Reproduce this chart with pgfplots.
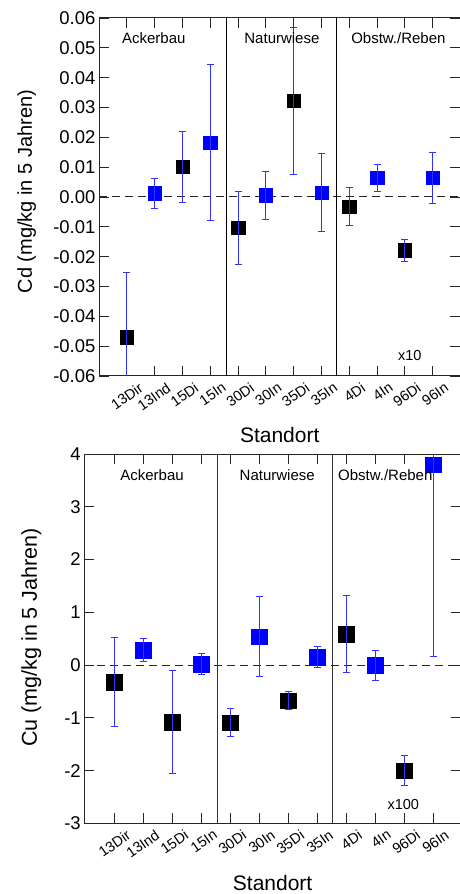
\documentclass[border=0pt]{standalone}
\usepackage{fontspec}
\setmainfont{Liberation Sans}
\usepackage{pgfplots}
\pgfplotsset{compat=1.18}

\definecolor{mkblue}{RGB}{0,0,255}
\definecolor{errblue}{RGB}{50,50,255}

\pgfplotsset{
  sitestyle/.style={
    scale only axis,
    anchor=south west,
    clip mode=individual,
    clip marker paths=true,
    unbounded coords=jump,
    scaled y ticks=false,
    xtick={0,...,11},
    xticklabels={13Dir,13Ind,15Di,15In,30Di,30In,35Di,35In,4Di,4In,96Di,96In},
    tick align=inside,
    major tick length=10pt,
    axis line style={black!85, line width=1pt},
    tick style={black!85, line width=0.8pt},
    xticklabel style={rotate=35, anchor=north east, inner sep=1pt,
      font=\fontsize{14.5}{16}\selectfont, xshift=7pt, yshift=-10pt},
    yticklabel style={font=\fontsize{18.5}{20}\selectfont},
    xlabel={Standort},
  },
  errbar/.style={
    forget plot, errblue, line width=0.9pt, mark=-, mark size=3.5pt,
    mark options={errblue, solid, line width=0.9pt},
  },
}

\begin{document}
\begin{tikzpicture}
\path[use as bounding box] (0,0) rectangle (460pt,894pt);

% ---------------- Cd ----------------
\begin{axis}[sitestyle,
  at={(99pt,518pt)}, width=361.4pt, height=358pt,
  xmin=-1, xmax=12, ymin=-0.06, ymax=0.06,
  ytick={-0.06,-0.05,...,0.061},
  yticklabels={-0.06,-0.05,-0.04,-0.03,-0.02,-0.01,0.00,0.01,0.02,0.03,0.04,0.05,0.06},
  ylabel={Cd (mg/kg in 5 Jahren)},
  ylabel style={at={(axis description cs:-0.2,0.515)}, anchor=center,
    font=\fontsize{20}{22}\selectfont},
  xlabel style={at={(axis description cs:0.5,-0.165)}, anchor=center,
    font=\fontsize{21}{23}\selectfont},
]
\addplot[black!85, dashed, dash pattern=on 8pt off 5pt, line width=1pt, forget plot]
  coordinates {(-1,0) (12,0)};
\draw[black, line width=0.8pt] (axis cs:3.6,-0.06) -- (axis cs:3.6,0.06);
\draw[black, line width=0.8pt] (axis cs:7.55,-0.06) -- (axis cs:7.55,0.06);
% means
\addplot[only marks, mark=square*, mark size=6.7pt, black, mark options={draw=none, fill=black}]
  coordinates {(0,-0.0470) (2,0.0101) (4,-0.0103) (6,0.0323) (8,-0.0033) (10,-0.0178)};
\addplot[only marks, mark=square*, mark size=6.7pt, mkblue, mark options={draw=none, fill=mkblue}]
  coordinates {(1,0.0013) (3,0.0183) (5,0.0006) (7,0.0015) (9,0.0065) (11,0.0064)};
% error bars (low, high)
\addplot[errbar] coordinates {
  (0,-0.0686) (0,-0.0254) (0,nan)
  (1,-0.0037) (1,0.0063) (1,nan)
  (2,-0.0017) (2,0.0219) (2,nan)
  (3,-0.0079) (3,0.0445) (3,nan)
  (4,-0.0225) (4,0.0019) (4,nan)
  (5,-0.0074) (5,0.0086) (5,nan)
  (6,0.0077) (6,0.0569) (6,nan)
  (7,-0.0115) (7,0.0145) (7,nan)
  (8,-0.0097) (8,0.0031) (8,nan)
  (9,0.0020) (9,0.0110) (9,nan)
  (10,-0.0215) (10,-0.0141) (10,nan)
  (11,-0.0021) (11,0.0149)};
\node[font=\fontsize{15}{17}\selectfont] at (axis cs:0.97,0.0533) {Ackerbau};
\node[font=\fontsize{15}{17}\selectfont] at (axis cs:5.58,0.0533) {Naturwiese};
\node[font=\fontsize{15}{17}\selectfont] at (axis cs:9.77,0.0533) {Obstw./Reben};
\node[font=\fontsize{14.5}{16}\selectfont] at (axis cs:10.18,-0.053) {x10};
\end{axis}

% ---------------- Cu ----------------
\begin{axis}[sitestyle,
  at={(84.3pt,70.7pt)}, width=376.6pt, height=369.3pt,
  xmin=-1.04, xmax=11.96, ymin=-3, ymax=4,
  ytick={-3,-2,...,4},
  yticklabels={-3,-2,-1,0,1,2,3,4},
  ylabel={Cu (mg/kg in 5 Jahren)},
  ylabel style={at={(axis description cs:-0.141,0.503)}, anchor=center,
    font=\fontsize{21.5}{23}\selectfont},
  xlabel style={at={(axis description cs:0.5,-0.162)}, anchor=center,
    font=\fontsize{21}{23}\selectfont},
]
\addplot[black!85, dashed, dash pattern=on 8pt off 5pt, line width=1pt, forget plot]
  coordinates {(-1.04,0) (12,0)};
\draw[black!80, line width=0.8pt] (axis cs:3.54,-3) -- (axis cs:3.54,4);
\draw[black!80, line width=0.8pt] (axis cs:7.54,-3) -- (axis cs:7.54,4);
% means
\addplot[only marks, mark=square*, mark size=7.8pt, black, mark options={draw=none, fill=black}]
  coordinates {(0,-0.320) (2,-1.078) (4,-1.090) (6,-0.675) (8,0.590) (10,-2.000)};
\addplot[only marks, mark=square*, mark size=7.8pt, mkblue, mark options={draw=none, fill=mkblue}]
  coordinates {(1,0.285) (3,0.018) (5,0.537) (7,0.150) (9,-0.008) (11,3.800)};
% error bars (low, high)
\addplot[errbar] coordinates {
  (0,-1.170) (0,0.530) (0,nan)
  (1,0.063) (1,0.507) (1,nan)
  (2,-2.056) (2,-0.100) (2,nan)
  (3,-0.180) (3,0.216) (3,nan)
  (4,-1.350) (4,-0.830) (4,nan)
  (5,-0.223) (5,1.297) (5,nan)
  (6,-0.840) (6,-0.510) (6,nan)
  (7,-0.045) (7,0.345) (7,nan)
  (8,-0.135) (8,1.315) (8,nan)
  (9,-0.301) (9,0.285) (9,nan)
  (10,-2.280) (10,-1.720) (10,nan)
  (11,0.165) (11,7.435)};
\node[font=\fontsize{15}{17}\selectfont] at (axis cs:1.3,3.6) {Ackerbau};
\node[font=\fontsize{15}{17}\selectfont] at (axis cs:5.62,3.6) {Naturwiese};
\node[font=\fontsize{15}{17}\selectfont] at (axis cs:9.35,3.6) {Obstw./Reben};
\node[font=\fontsize{14.5}{16}\selectfont] at (axis cs:9.97,-2.64) {x100};
\end{axis}
\end{tikzpicture}
\end{document}
